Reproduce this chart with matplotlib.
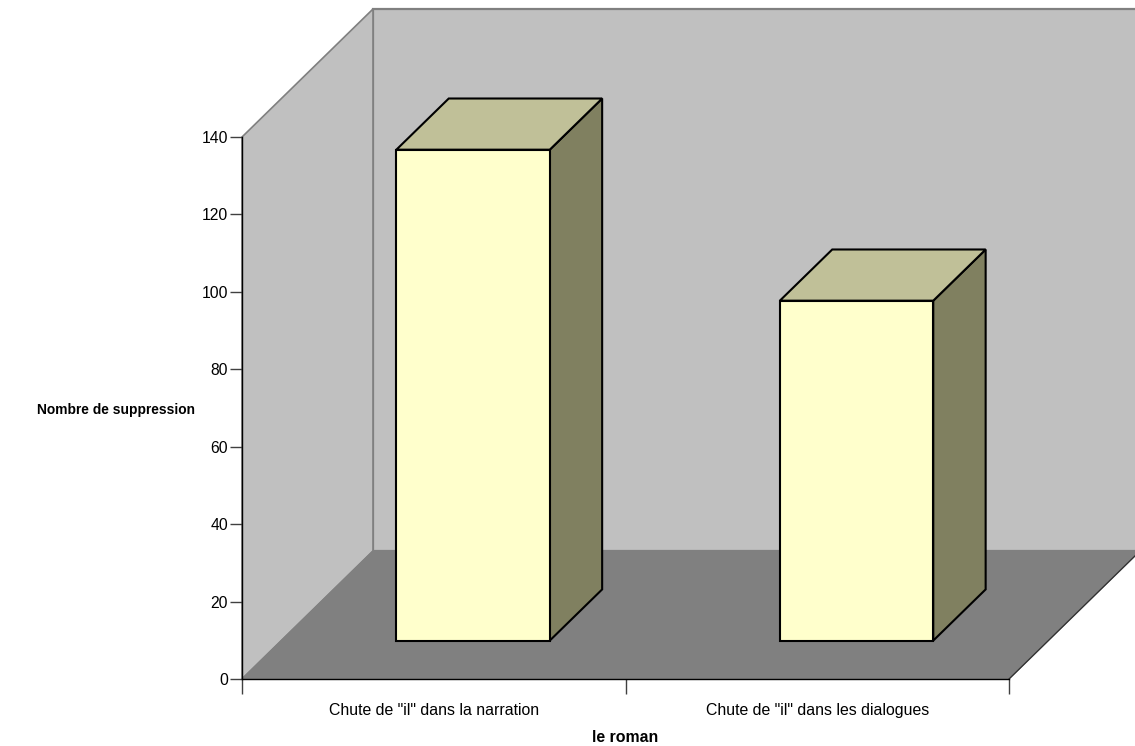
import matplotlib
matplotlib.use('Agg')
import matplotlib.pyplot as plt
from matplotlib.patches import Polygon

categories = ['Chute de "il" dans la narration', 'Chute de "il" dans les dialogues']
values = [126.8, 87.8]
y_ticks = [0, 20, 40, 60, 80, 100, 120, 140]

W, H = 1135, 746
DX = 131 / 383.5   # depth shift, in category units
DY = 128 / (542 / 140)   # depth shift, in value units


def proj(x, y, d):
    return (x + d * DX, y + d * DY)


def face(ax, pts, color, edge='black', lw=1.5, z=1):
    ax.add_patch(Polygon([proj(*p) for p in pts], closed=True, facecolor=color,
                         edgecolor=edge, linewidth=lw, zorder=z, clip_on=False))


plt.rcParams['font.family'] = ['Liberation Sans', 'DejaVu Sans']
fig = plt.figure(figsize=(W / 100, H / 100), dpi=100)
ax = fig.add_axes([242 / W, 1 - 679 / H, 767 / W, 542 / H])
ax.set_xlim(0, 2)
ax.set_ylim(0, 140)

top = 140
# walls and floor
face(ax, [(0, 0, 1), (2, 0, 1), (2, top, 1), (0, top, 1)], '#c0c0c0', edge='#808080', lw=1.6)
face(ax, [(0, 0, 0), (0, 0, 1), (0, top, 1), (0, top, 0)], '#c0c0c0', edge='#808080', lw=1.2)
face(ax, [(0, 0, 0), (2, 0, 0), (2, 0, 1), (0, 0, 1)], '#808080', edge='#808080', lw=1.0)
# right edge of the floor is darker
ax.plot(*zip(proj(2, 0, 0), proj(2, 0, 1)), color='#303030', lw=0.9, clip_on=False, zorder=1.5)

# bars
bw = 0.4
d0, d1 = 0.3, 0.7
for i, v in enumerate(values):
    x0 = i + 0.5 - bw / 2
    x1 = i + 0.5 + bw / 2
    face(ax, [(x1, 0, d0), (x1, 0, d1), (x1, v, d1), (x1, v, d0)], '#808060', z=3)
    face(ax, [(x0, v, d0), (x1, v, d0), (x1, v, d1), (x0, v, d1)], '#c0c098', z=3)
    face(ax, [(x0, 0, d0), (x1, 0, d0), (x1, v, d0), (x0, v, d0)], '#ffffcc', z=4)

for s in ['top', 'right']:
    ax.spines[s].set_visible(False)
for s in ['left', 'bottom']:
    ax.spines[s].set_linewidth(1.0)
    ax.spines[s].set_color('black')
    ax.spines[s].set_zorder(2)
ax.patch.set_alpha(0)

ax.set_yticks(y_ticks)
ax.set_xticks([0, 1, 2])
ax.set_xticklabels([])
ax.set_xticks([0.5, 1.5], minor=True)
ax.set_xticklabels(categories, minor=True)
ax.tick_params(axis='x', which='minor', length=0, labelsize=11.4, pad=17)
ax.tick_params(axis='x', which='major', length=11, width=1.0, color='#404040', direction='out')
ax.tick_params(axis='y', length=9, width=1.0, color='#404040', labelsize=11.3, pad=1)

fig.text(37 / W, 1 - 410 / H, 'Nombre de suppression', fontsize=9.9, fontweight='bold',
         ha='left', va='center')
fig.text(625 / W, 1 - 737 / H, 'le roman', fontsize=11.4, fontweight='bold',
         ha='center', va='center')

fig.savefig('out.png', dpi=100)
